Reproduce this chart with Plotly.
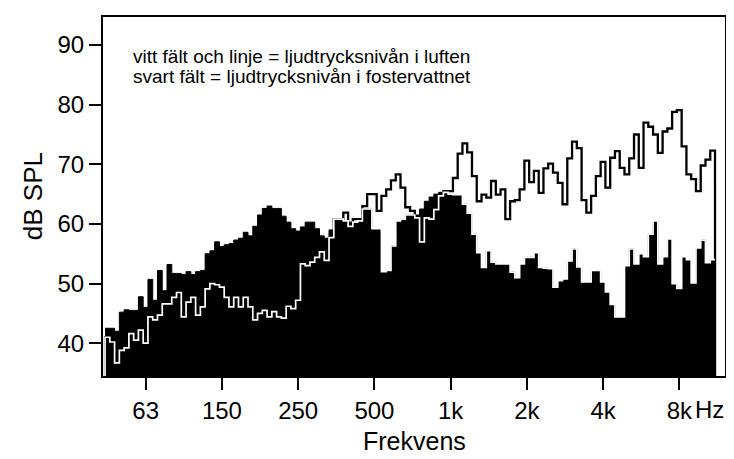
import numpy as np
import plotly.graph_objects as go

# ---- data ----
BAND_START_HZ = 43.2          # lower edge of first analysis band
BANDS_PER_OCTAVE = 16

fluid_db = [42.5, 42.5, 42.0, 45.2, 45.6, 45.5, 45.5, 47.8, 46.0, 50.7,
            47.2, 52.2, 48.8, 53.2, 51.7, 51.7, 51.5, 52.0, 51.5, 52.0,
            52.2, 55.0, 55.5, 57.0, 56.2, 56.5, 56.7, 57.3, 57.6, 58.6,
            58.0, 59.6, 61.5, 62.6, 63.0, 62.6, 62.6, 61.3, 60.3, 59.2,
            58.8, 59.5, 60.3, 60.3, 59.2, 58.0, 57.6, 59.0, 60.8, 60.8,
            60.5, 60.3, 60.3, 60.5, 62.5, 62.5, 59.2, 59.2, 52.0, 52.2,
            56.3, 60.5, 60.8, 61.5, 61.5, 61.5, 62.5, 63.8, 64.5, 65.0,
            65.3, 65.3, 65.0, 64.9, 64.9, 63.3, 61.8, 58.3, 55.2, 52.7,
            55.5, 53.6, 53.3, 53.3, 53.3, 51.9, 51.0, 53.3, 54.4, 54.4,
            55.2, 52.7, 52.6, 52.5, 49.4, 50.5, 50.8, 53.8, 55.8, 52.8,
            50.3, 50.3, 52.2, 52.2, 50.3, 48.6, 46.5, 44.4, 44.4, 53.0,
            55.8, 53.3, 55.0, 54.5, 58.3, 60.5, 53.3, 54.5, 57.5, 50.0,
            49.2, 54.5, 54.0, 50.1, 56.0, 57.3, 53.5, 54.0]

air_db = [41.0, 40.2, 36.7, 38.8, 39.2, 41.6, 40.5, 42.2, 40.0, 44.4,
          43.9, 44.7, 46.6, 46.6, 47.7, 48.5, 44.4, 46.9, 47.7, 44.7,
          46.1, 49.1, 50.0, 49.8, 49.4, 47.7, 46.1, 47.7, 46.1, 47.7,
          46.1, 43.9, 45.0, 45.5, 44.4, 45.3, 44.4, 44.2, 46.2, 45.8,
          47.2, 53.3, 53.0, 53.6, 54.4, 55.3, 53.9, 57.7, 60.8, 60.8,
          61.9, 59.6, 60.8, 60.8, 63.0, 65.0, 65.0, 62.2, 64.7, 65.8,
          67.3, 68.3, 66.1, 62.8, 62.2, 61.0, 57.0, 61.0, 60.8, 62.4,
          64.7, 65.5, 65.5, 67.7, 71.8, 73.5, 72.0, 68.0, 63.8, 64.9,
          64.4, 67.2, 64.9, 65.8, 60.8, 63.8, 64.0, 65.8, 70.6, 67.0,
          68.9, 65.2, 69.3, 70.1, 68.6, 66.9, 63.3, 71.0, 73.8, 72.7,
          64.0, 61.9, 64.7, 68.0, 70.4, 66.1, 71.1, 72.2, 69.4, 68.3,
          71.0, 75.0, 69.4, 77.0, 76.3, 75.0, 71.9, 75.5, 76.0, 78.8,
          79.1, 73.0, 68.3, 67.5, 65.5, 69.8, 70.8, 72.3]

tick_hz = [62.5, 125, 250, 500, 1000, 2000, 4000, 8000]
tick_labels = ["63", "150", "250", "500", "1k", "2k", "4k", "8k"]
y_ticks = [40, 50, 60, 70, 80, 90]

Y_MIN, Y_MAX = 34.5, 94.7
X_MIN_HZ, X_MAX_HZ = 42.4, 12110

# ---- build step series ----
n = len(fluid_db)
edges = BAND_START_HZ * 2.0 ** (np.arange(n + 1) / BANDS_PER_OCTAVE)
fluid = np.array(fluid_db)
air = np.array(air_db)
floor = Y_MIN - 5

x_fluid = list(edges)
y_fluid = list(fluid) + [fluid[-1]]

x_air = [edges[0]] + list(edges) + [edges[-1]]
y_air = [floor] + list(air) + [air[-1], floor]

inside = np.minimum(air, fluid)
x_white = [edges[0]] + list(edges)
y_white = [floor] + list(inside) + [inside[-1]]

FONT = "Liberation Sans, Arial, Helvetica, sans-serif"

fig = go.Figure()
fig.add_trace(go.Scatter(x=x_air, y=y_air, mode="lines",
                         line=dict(color="black", width=2.3, shape="hv"),
                         hoverinfo="skip", showlegend=False))
fig.add_trace(go.Scatter(x=x_fluid, y=y_fluid, mode="lines",
                         line=dict(color="black", width=1, shape="hv"),
                         fill="tozeroy", fillcolor="black",
                         hoverinfo="skip", showlegend=False))
fig.add_trace(go.Scatter(x=x_white, y=y_white, mode="lines",
                         line=dict(color="white", width=1.7, shape="hv"),
                         hoverinfo="skip", showlegend=False))

# page is offset by the browser's default 8px body margin
OFF = 8
PAGE_W, PAGE_H = 734, 459
PL, PR, PT, PB = 103, 727, 15, 376      # plot box in page pixels
W, H = PAGE_W - OFF, PAGE_H - OFF
L, T = PL - OFF, PT - OFF
R, B = PAGE_W - PR, PAGE_H - PB

def px(xp):
    return (xp - PL) / (PR - PL)

def py(yp):
    return (PB - yp) / (PB - PT)

def note(text, x, y, size, xanchor="center", angle=0):
    return dict(text=text, x=px(x), y=py(y), xref="paper", yref="paper",
                xanchor=xanchor, yanchor="middle", textangle=angle,
                showarrow=False, font=dict(size=size))

fig.update_layout(
    width=W, height=H,
    margin=dict(l=L, r=R, t=T, b=B),
    paper_bgcolor="white", plot_bgcolor="white",
    font=dict(family=FONT, color="black", size=24),
    showlegend=False,
    xaxis=dict(type="log", range=[np.log10(X_MIN_HZ), np.log10(X_MAX_HZ)],
               tickvals=tick_hz, ticktext=tick_labels,
               ticks="outside", ticklen=12, tickwidth=2, tickcolor="black",
               showline=True, linecolor="black", linewidth=2, mirror=True,
               showgrid=False, zeroline=False,
               tickfont=dict(size=24, family=FONT)),
    yaxis=dict(range=[Y_MIN, Y_MAX], tickvals=y_ticks,
               ticks="outside", ticklen=12, tickwidth=2, tickcolor="black",
               showline=True, linecolor="black", linewidth=2, mirror=True,
               showgrid=False, zeroline=False,
               tickfont=dict(size=24, family=FONT)),
    annotations=[
        note("dB SPL", 33, 195, 26, angle=-90),
        note("Frekvens", 415, 441, 25),
        note("Hz", 695, 410, 24, xanchor="left"),
        note("vitt fält och linje = ljudtrycksnivån i luften", 131, 55, 19,
             xanchor="left"),
        note("svart fält = ljudtrycksnivån i fostervattnet", 131, 75, 19,
             xanchor="left"),
    ],
)

fig.write_html("out.html")
